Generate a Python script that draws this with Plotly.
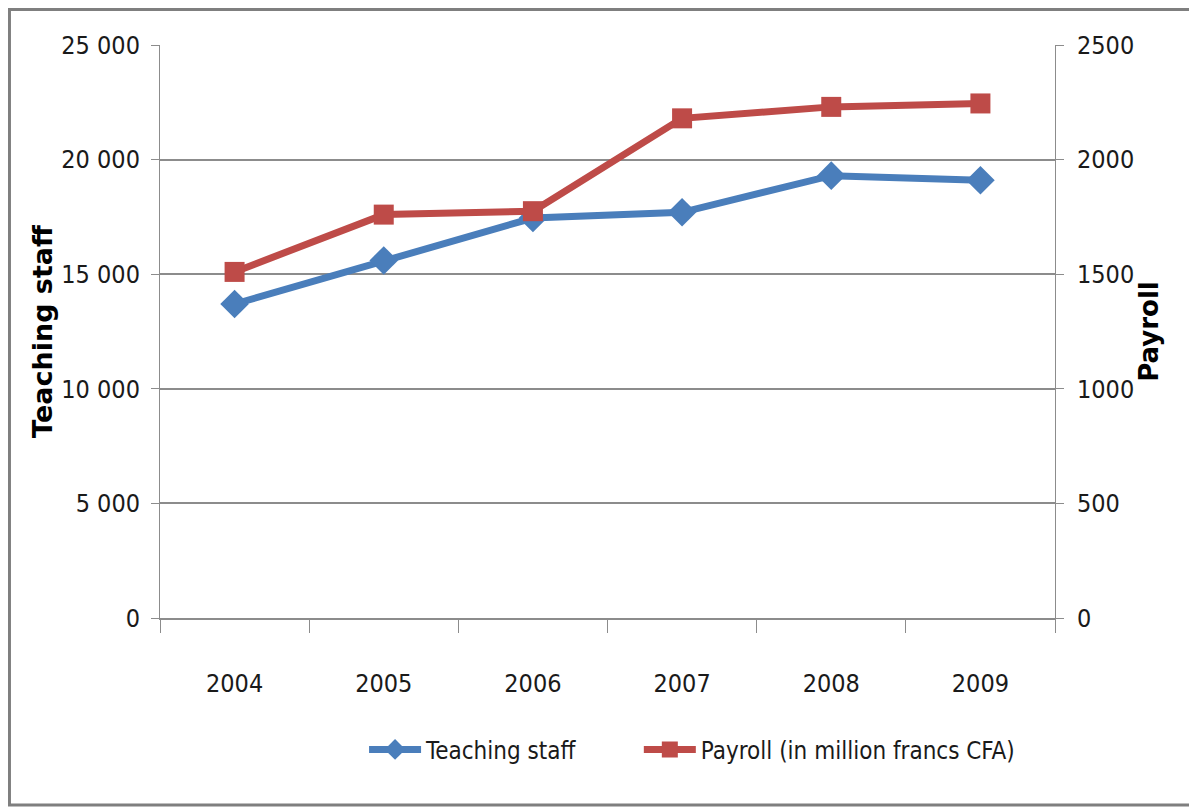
import plotly.graph_objects as go

years = ["2004", "2005", "2006", "2007", "2008", "2009"]
teaching_staff = [13700, 15600, 17450, 17700, 19300, 19100]
payroll = [1510, 1760, 1775, 2180, 2230, 2245]

BLUE = "#4A7EBB"
RED = "#BE4B48"
GRID = "#8C8C8C"
NARROW = "DejaVu Sans Condensed, Liberation Sans Narrow, Arial Narrow, Liberation Sans, sans-serif"
BOLD = "DejaVu Sans, Verdana, sans-serif"

fig = go.Figure()

fig.add_trace(go.Scatter(
    x=years, y=teaching_staff, name="Teaching staff",
    mode="lines+markers", legend="legend",
    line=dict(color=BLUE, width=7),
    marker=dict(symbol="diamond", size=22, color=BLUE),
))

fig.add_trace(go.Scatter(
    x=years, y=payroll, name="Payroll (in million francs CFA)",
    mode="lines+markers", yaxis="y2", legend="legend2",
    line=dict(color=RED, width=7),
    marker=dict(symbol="square", size=20, color=RED),
))

legend_style = dict(
    orientation="h", xanchor="left", y=-0.23, yanchor="middle",
    font=dict(family=NARROW, size=24), itemwidth=52,
    bgcolor="rgba(0,0,0,0)",
)

# page is shown with an 8px body margin, so the figure is 8px smaller
fig.update_layout(
    width=1189, height=801,
    margin=dict(l=152, r=142, t=37, b=191),
    paper_bgcolor="white", plot_bgcolor="white",
    separators=". ",
    font=dict(family=NARROW, size=25, color="#1a1a1a"),
    xaxis=dict(
        type="category", automargin=False, range=[-0.5, 5.5],
        showline=True, linecolor=GRID, linewidth=2,
        ticks="outside", tickson="boundaries", ticklen=13,
        tickcolor=GRID, tickwidth=1,
        showgrid=False, ticklabelstandoff=42,
    ),
    yaxis=dict(
        range=[0, 25000], dtick=5000, tickformat=",d", automargin=False,
        showline=True, linecolor=GRID, linewidth=1,
        showgrid=True, gridcolor=GRID, gridwidth=1.5,
        ticks="outside", ticklen=8, tickcolor=GRID,
        ticklabelstandoff=6, zeroline=False,
        title=dict(text="<b>Teaching staff</b>",
                   font=dict(family=BOLD, size=27, color="black"),
                   standoff=0),
    ),
    yaxis2=dict(
        range=[0, 2500], dtick=500, tickformat="d", automargin=False,
        overlaying="y", side="right",
        showline=True, linecolor=GRID, linewidth=1,
        showgrid=False, zeroline=False,
        ticks="outside", ticklen=8, tickcolor=GRID,
        ticklabelstandoff=8,
        title=dict(text="<b>Payroll</b>",
                   font=dict(family=BOLD, size=26, color="black"),
                   standoff=5),
    ),
    legend=dict(x=0.228, **legend_style),
    legend2=dict(x=0.535, **legend_style),
    showlegend=True,
)

# outer chart frame
fig.add_shape(
    type="rect", xref="paper", yref="paper",
    x0=-0.1682, x1=1.1553, y0=-0.3265, y1=1.062,
    line=dict(color="#7F7F7F", width=3), fillcolor="rgba(0,0,0,0)",
    layer="below",
)

fig.write_html("out.html")
